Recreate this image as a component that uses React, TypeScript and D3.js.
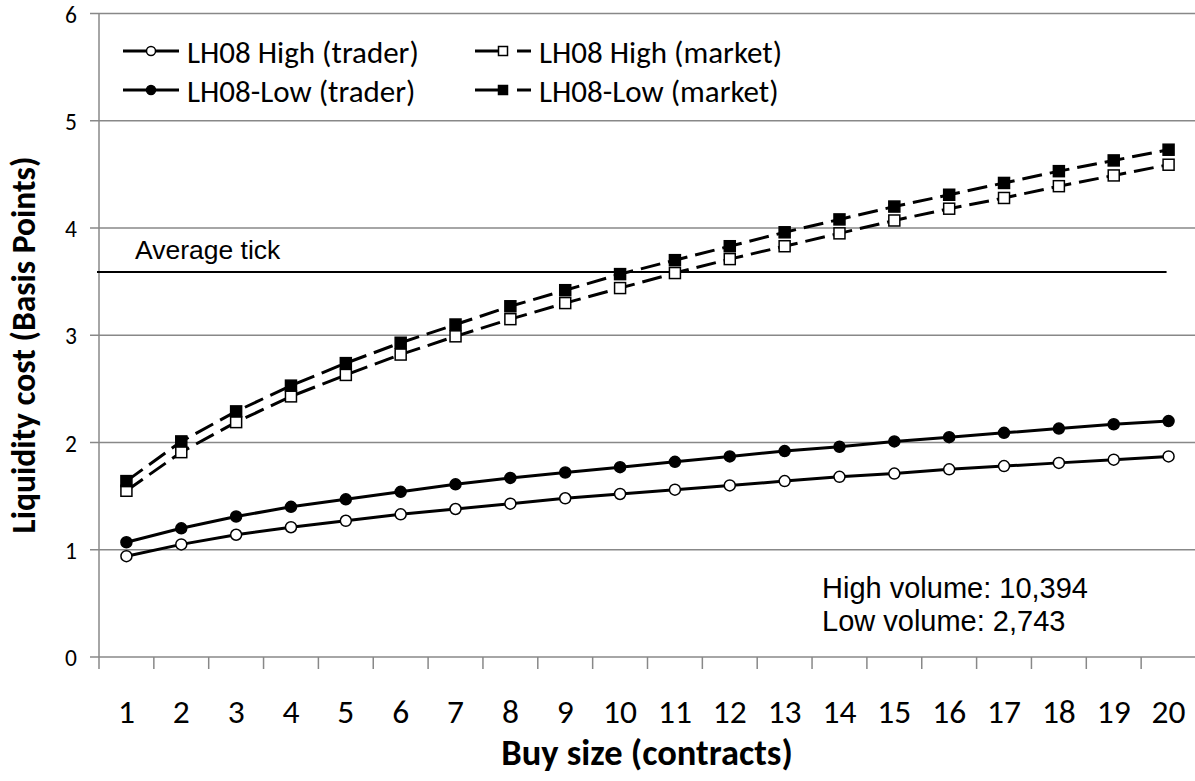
import * as d3 from "d3";

const sizes = [1, 2, 3, 4, 5, 6, 7, 8, 9, 10, 11, 12, 13, 14, 15, 16, 17, 18, 19, 20];
const highTrader = [0.94, 1.05, 1.14, 1.21, 1.27, 1.33, 1.38, 1.43, 1.48, 1.52, 1.56, 1.6, 1.64, 1.68, 1.71, 1.75, 1.78, 1.81, 1.84, 1.87];
const lowTrader = [1.07, 1.2, 1.31, 1.4, 1.47, 1.54, 1.61, 1.67, 1.72, 1.77, 1.82, 1.87, 1.92, 1.96, 2.01, 2.05, 2.09, 2.13, 2.17, 2.2];
const highMarket = [1.55, 1.91, 2.19, 2.43, 2.63, 2.82, 2.99, 3.15, 3.3, 3.44, 3.58, 3.71, 3.83, 3.95, 4.07, 4.18, 4.28, 4.39, 4.49, 4.59];
const lowMarket = [1.64, 2.01, 2.29, 2.53, 2.74, 2.93, 3.1, 3.27, 3.42, 3.57, 3.7, 3.83, 3.96, 4.08, 4.2, 4.31, 4.42, 4.53, 4.63, 4.73];
const yTicks = [0, 1, 2, 3, 4, 5, 6];
const averageTick = 3.59;

const W = 1195;
const H = 781;
const plot = { left: 99, right: 1196, top: 13.5, bottom: 657 };
const calibri = "Carlito, 'Open Sans', 'Liberation Sans', sans-serif";
const arial = "'Liberation Sans', Arial, sans-serif";

const series = [
  { name: "LH08 High (trader)", values: highTrader, marker: "circle", fill: "white", dashed: false },
  { name: "LH08-Low (trader)", values: lowTrader, marker: "circle", fill: "black", dashed: false },
  { name: "LH08 High (market)", values: highMarket, marker: "square", fill: "white", dashed: true },
  { name: "LH08-Low (market)", values: lowMarket, marker: "square", fill: "black", dashed: true },
];

function Marker({ x, y, kind, fill, r = 5.5 }: { x: number; y: number; kind: string; fill: string; r?: number }) {
  if (kind === "circle") {
    return <circle cx={x} cy={y} r={r} fill={fill} stroke="black" strokeWidth={1.5} />;
  }
  return <rect x={x - r} y={y - r} width={2 * r} height={2 * r} fill={fill} stroke="black" strokeWidth={1.5} />;
}

export default function App() {
  const x = d3.scaleBand<number>().domain(sizes).range([plot.left, plot.right]);
  const cx = (d: number) => (x(d) as number) + x.bandwidth() / 2;
  const y = d3.scaleLinear().domain([0, 6]).range([plot.bottom, plot.top]);

  const line = d3
    .line<number>()
    .x((_, i) => cx(sizes[i]))
    .y((v) => y(v));

  // legend layout
  const legendPos = [
    { lx: 123, ly: 51 },
    { lx: 123, ly: 90 },
    { lx: 475, ly: 51 },
    { lx: 475, ly: 90 },
  ];

  return (
    <svg width={W} height={H} style={{ position: "absolute", left: 0, top: 0, background: "white" }}>
      {/* gridlines */}
      {yTicks.map((t) => (
        <g key={t}>
          <line x1={plot.left - 9} x2={plot.right} y1={y(t)} y2={y(t)} stroke="#888" strokeWidth={1.5} />
          <text x={77} y={y(t) + 9} textAnchor="end" fontFamily={calibri} fontSize={23.5}>
            {t}
          </text>
        </g>
      ))}
      {/* y axis */}
      <line x1={plot.left} x2={plot.left} y1={plot.top} y2={plot.bottom} stroke="#888" strokeWidth={1.5} />
      {/* x ticks */}
      {sizes.map((s) => (
        <line key={"t" + s} x1={x(s) as number} x2={x(s) as number} y1={plot.bottom} y2={plot.bottom + 12} stroke="#888" strokeWidth={1.5} />
      ))}
      {sizes.map((s) => (
        <text key={"l" + s} x={cx(s)} y={723} textAnchor="middle" fontFamily={calibri} fontSize={33.5}>
          {s}
        </text>
      ))}

      {/* average tick */}
      <line x1={plot.left - 2} x2={cx(20) - 2} y1={y(averageTick)} y2={y(averageTick)} stroke="black" strokeWidth={2} />
      <text x={135} y={259} fontFamily={arial} fontSize={26.5}>
        Average tick
      </text>

      {/* series */}
      {series.map((s) => (
        <g key={s.name}>
          <path
            d={line(s.values) as string}
            fill="none"
            stroke="black"
            strokeWidth={3}
            strokeDasharray={s.dashed ? "20 8" : undefined}
          />
          {s.values.map((v, i) => (
            <Marker key={i} x={cx(sizes[i])} y={y(v)} kind={s.marker} fill={s.fill} />
          ))}
        </g>
      ))}

      {/* legend */}
      {series.map((s, i) => {
        const p = legendPos[i];
        return (
          <g key={"leg" + s.name}>
            {s.dashed ? (
              <>
                <line x1={p.lx} x2={p.lx + 28} y1={p.ly} y2={p.ly} stroke="black" strokeWidth={3} />
                <line x1={p.lx + 42} x2={p.lx + 56} y1={p.ly} y2={p.ly} stroke="black" strokeWidth={3} />
              </>
            ) : (
              <line x1={p.lx} x2={p.lx + 56} y1={p.ly} y2={p.ly} stroke="black" strokeWidth={3} />
            )}
            <Marker x={p.lx + 28} y={p.ly} kind={s.marker} fill={s.fill} r={4.5} />
            <text x={p.lx + 64} y={p.ly + 12} fontFamily={calibri} fontSize={31}>
              {s.name}
            </text>
          </g>
        );
      })}

      {/* volume notes */}
      <text x={822} y={598} fontFamily={arial} fontSize={29}>
        High volume: 10,394
      </text>
      <text x={822} y={631} fontFamily={arial} fontSize={29}>
        Low volume: 2,743
      </text>

      {/* axis titles */}
      <text x={647} y={765} textAnchor="middle" fontFamily={calibri} fontSize={36.5} fontWeight="bold">
        Buy size (contracts)
      </text>
      <text
        transform={`translate(35,345) rotate(-90)`}
        textAnchor="middle"
        fontFamily={calibri}
        fontSize={33.5}
        fontWeight="bold"
      >
        Liquidity cost (Basis Points)
      </text>
    </svg>
  );
}
